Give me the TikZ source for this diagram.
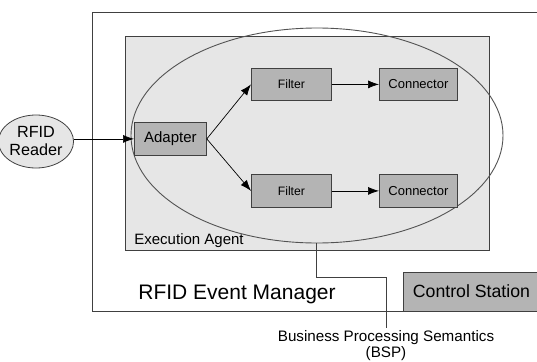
\documentclass[tikz,border=0pt]{standalone}
\usepackage{fontspec}
\setmainfont{Liberation Sans}
\usetikzlibrary{shapes.geometric,arrows.meta}
\definecolor{linegray}{HTML}{404040}
\definecolor{boxgray}{HTML}{B4B4B4}
\definecolor{lightgray2}{HTML}{E6E6E6}
\begin{document}
\begin{tikzpicture}[x=1pt,y=-1pt,
  line width=0.8pt,
  graybox/.style={draw=linegray, fill=boxgray, inner sep=0pt, anchor=north west},
  arr/.style={draw=black, line width=0.7pt, -{Latex[length=11pt,width=8pt]}},
  lbl/.style={inner sep=0pt, text=black}
]
\useasboundingbox (0,0) rectangle (537,361);
\clip (0,0) rectangle (537,361);
% outer RFID Event Manager box
\node[draw=linegray, fill=white, inner sep=0pt, anchor=north west, minimum width=460pt, minimum height=299pt] (rem) at (92,12) {};
% execution agent
\node[draw=linegray, fill=lightgray2, inner sep=0pt, anchor=north west, minimum width=364pt, minimum height=214pt] (ea) at (125,36) {};
% BSP ellipse
\node[ellipse, draw=linegray!90, line width=0.9pt, inner sep=0pt, minimum width=372pt, minimum height=215pt] (bsp) at (317,135.5) {};
% control station
\node[graybox, minimum width=150pt, minimum height=39pt] (csbox) at (403,272) {};
\node[lbl, font=\fontsize{17.7}{20}\selectfont, anchor=base] (cs) at (471.5,297) {Control Station};
% labels
\node[lbl, font=\fontsize{15}{17}\selectfont, anchor=base west] (ealbl) at (134,244) {Execution Agent};
\node[lbl, font=\fontsize{21}{24}\selectfont, anchor=base west] (remlbl) at (138,299) {RFID Event Manager};
% inner boxes
\node[graybox, minimum width=72pt, minimum height=33pt, font=\fontsize{15}{17}\selectfont] (adapter) at (134,122) {Adapter};
\node[graybox, minimum width=80pt, minimum height=32pt, font=\fontsize{12.2}{14}\selectfont] (f1) at (251,68) {Filter};
\node[graybox, minimum width=78pt, minimum height=32pt, font=\fontsize{13}{15}\selectfont] (c1) at (379,68) {Connector};
\node[graybox, minimum width=80pt, minimum height=33pt, font=\fontsize{12.2}{14}\selectfont] (f2) at (251,174) {Filter};
\node[graybox, minimum width=78pt, minimum height=33pt, font=\fontsize{13}{15}\selectfont] (c2) at (379,174) {Connector};
% RFID reader
\node[ellipse, draw=linegray, fill=lightgray2, inner sep=0pt, minimum width=64pt, minimum height=53pt, align=center, font=\fontsize{16.2}{18}\selectfont] (reader) at (36,141.5) {RFID\\Reader};
% arrows
\draw[arr] (reader.east |- adapter.west) -- (adapter.west);
\draw[arr] (adapter.east) -- (f1.west);
\draw[arr] (adapter.east) -- (f2.west);
\draw[arr] (f1.east) -- (c1.west);
\draw[arr] (f2.east) -- (c2.west);
% BSP label
\node[inner sep=2pt, anchor=north, align=center, font=\fontsize{15.2}{16.5}\selectfont] (bsplbl) at (386,328) {Business Processing Semantics\\(BSP)};
\coordinate (k1) at (316,277);
\draw[draw=linegray, line width=0.9pt] (bsp.south -| k1) -- (k1) -- (k1 -| bsplbl.north) -- (bsplbl.north);
\end{tikzpicture}
\end{document}
